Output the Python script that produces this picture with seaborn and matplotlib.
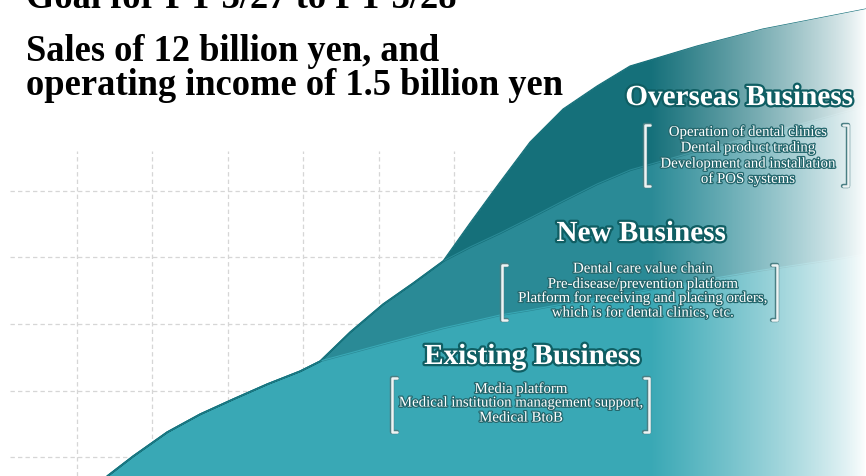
import numpy as np
import pandas as pd
import matplotlib
matplotlib.use("Agg")
import matplotlib.pyplot as plt
import matplotlib.patheffects as pe
import seaborn as sns

# ---- data: thickness of each business layer along the growth curve ----
position = [107, 133, 167, 200, 233, 267, 300, 320, 350, 383, 413, 443,
            470, 500, 530, 563, 597, 630, 697, 763, 830, 866]
existing = [0, 20, 44, 62, 77, 92, 105, 115, 123, 132, 140, 148,
            154, 161, 166, 172, 178, 183, 195, 206, 216, 222]
new_business = [0, 0, 0, 0, 0, 0, 0, 0, 21, 40, 53, 67,
                75, 82, 92, 103, 114, 123, 130, 136, 144, 148]
overseas = [0, 0, 0, 0, 0, 0, 0, 0, 0, 0, 0, 0,
            24, 51, 76, 92, 98, 104, 105, 105, 100, 97]

layer_names = ["Existing Business", "New Business", "Overseas Business"]
layer_colors = ["#39a8b5", "#2a8a96", "#15707a"]

headline = ["Goal for FY 3/27 to FY 3/28",
            "Sales of 12 billion yen, and",
            "operating income of 1.5 billion yen"]

overseas_items = ["Operation of dental clinics", "Dental product trading",
                  "Development and installation", "of POS systems"]
new_items = ["Dental care value chain", "Pre-disease/prevention platform",
             "Platform for receiving and placing orders,",
             "which is for dental clinics, etc."]
existing_items = ["Media platform", "Medical institution management support,",
                  "Medical BtoB"]

W, H = 866, 477

sns.set_theme(style="white")
plt.rcParams["font.family"] = ["Liberation Serif", "DejaVu Serif"]

fig = plt.figure(figsize=(W / 100, H / 100), dpi=100)
ax = fig.add_axes([0, 0, 1, 1])


def py(y):
    """Convert a distance from the top edge into axis units."""
    return H - y


# dashed background grid
grid_kw = dict(colors="#d6d6d6", linestyles=(0, (3.5, 2.5)), linewidth=0.9, zorder=0)
ax.hlines([py(v) for v in (192, 258, 325, 392, 458)], 10, W, **grid_kw)
ax.vlines([77, 152, 228, 303, 379, 454, 530, 605, 681, 756, 832], 0, py(152), **grid_kw)

# stacked business layers
df = pd.DataFrame({"position": position, "Existing Business": existing,
                   "New Business": new_business, "Overseas Business": overseas})
base = np.zeros(len(df))
for name, col in zip(layer_names, layer_colors):
    top = base + df[name].to_numpy()
    ax.fill_between(df["position"], base, top, color=col, linewidth=0.8,
                    edgecolor=col, zorder=1)
    sns.lineplot(x=df["position"], y=top, color=col, linewidth=0.8, ax=ax,
                 zorder=1.5, legend=False)
    base = top
outer = ax.fill_between(df["position"], 0, base, color="none", linewidth=0, zorder=1)

# fade the layers into white toward the right edge
xs = np.linspace(0, W, 600)
fade = 1 - np.clip((W - xs) / (W - 650), 0, 1) ** 0.8
overlay = np.ones((2, xs.size, 4))
overlay[..., 3] = fade
im = ax.imshow(overlay, extent=(0, W, 0, H), aspect="auto", origin="lower",
               interpolation="bilinear", zorder=2)
im.set_clip_path(outer.get_paths()[0], ax.transData)

ax.set_xlim(0, W)
ax.set_ylim(0, H)
ax.axis("off")

# headline
for text, y in zip(headline, (8, 61, 95)):
    ax.text(26, py(y), text, fontsize=26.3, fontweight="bold", color="black",
            ha="left", va="baseline", zorder=5)

label_fx = [pe.withStroke(linewidth=3.2, foreground="#0f5e63")]
item_fx = [pe.withStroke(linewidth=1.8, foreground="#24676d")]
bracket_fx = [pe.withStroke(linewidth=3.2, foreground="#4a7f84")]


def bracket(x0, x1, y0, y1):
    for x, d in ((x0, 5), (x1, -5)):
        ax.plot([x + d, x, x, x + d], [py(y0), py(y0), py(y1), py(y1)],
                color="#eef4f4", linewidth=1.8, solid_joinstyle="round",
                solid_capstyle="round", path_effects=bracket_fx, zorder=6)


def block(title, tx, ty, items, cx, line_ys, bx):
    ax.text(tx, py(ty), title, fontsize=21, fontweight="bold", color="white",
            ha="center", va="baseline", path_effects=label_fx, zorder=7)
    for item, ly in zip(items, line_ys):
        ax.text(cx, py(ly), item, fontsize=10.7, color="white", ha="center",
                va="center", path_effects=item_fx, zorder=7)
    bracket(bx[0], bx[1], bx[2], bx[3])


block("Overseas Business", 739, 106, overseas_items, 748,
      (133, 149, 165, 180), (645, 848, 126, 187))
block("New Business", 641, 242, new_items, 643,
      (270, 285, 299, 314), (502, 777, 266, 321))
block("Existing Business", 532, 365, existing_items, 521,
      (390, 404, 419), (392, 649, 379, 433))

fig.savefig("out.png", dpi=100)
